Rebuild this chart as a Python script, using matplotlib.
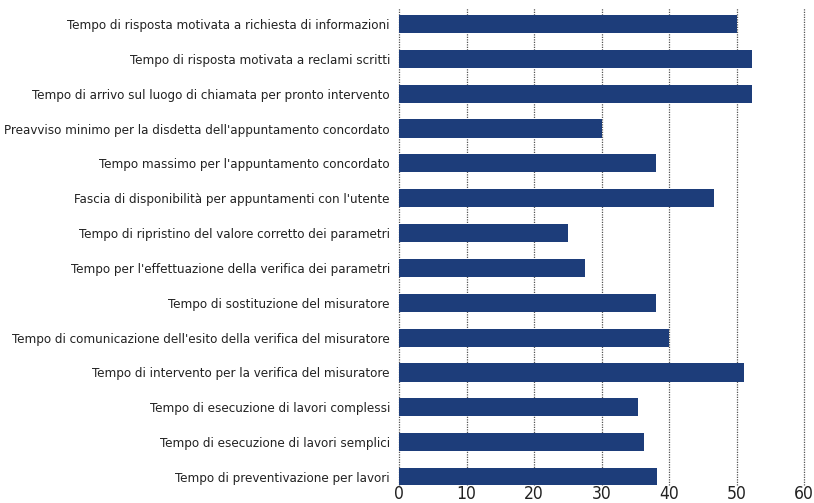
import matplotlib.pyplot as plt
import numpy as np

categorie = [
    "Tempo di risposta motivata a richiesta di informazioni",
    "Tempo di risposta motivata a reclami scritti",
    "Tempo di arrivo sul luogo di chiamata per pronto intervento",
    "Preavviso minimo per la disdetta dell'appuntamento concordato",
    "Tempo massimo per l'appuntamento concordato",
    "Fascia di disponibilità per appuntamenti con l'utente",
    "Tempo di ripristino del valore corretto dei parametri",
    "Tempo per l'effettuazione della verifica dei parametri",
    "Tempo di sostituzione del misuratore",
    "Tempo di comunicazione dell'esito della verifica del misuratore",
    "Tempo di intervento per la verifica del misuratore",
    "Tempo di esecuzione di lavori complessi",
    "Tempo di esecuzione di lavori semplici",
    "Tempo di preventivazione per lavori",
]
valori = [50, 52.3, 52.3, 30, 38.1, 46.7, 25, 27.6, 38.1, 40, 51.1, 35.4, 36.3, 38.2]
xticks = [0, 10, 20, 30, 40, 50, 60]

plt.rcParams['font.family'] = ['DejaVu Sans']
plt.rcParams['font.stretch'] = 'condensed'

fig = plt.figure(figsize=(8.14, 5.03), dpi=100)
ax = fig.add_axes([399 / 814, 1 - 485 / 503, 405 / 814, 477 / 503])

y = np.arange(len(categorie))
ax.barh(y, valori, height=0.52, color='#1d3d7a', zorder=3)

for t in xticks:
    ax.axvline(t, color='#555555', lw=0.9, ls=(0, (1, 1)), zorder=1, clip_on=False)

ax.set_xlim(0, 60)
ax.set_ylim(13.23, -0.46)
ax.set_yticks(y)
ax.set_yticklabels(categorie, fontsize=9.5, color='#222222')
ax.set_xticks(xticks)
ax.set_xticklabels([str(t) for t in xticks], fontsize=12.5, color='#222222')
ax.tick_params(axis='y', length=0, pad=6.5)
ax.tick_params(axis='x', length=0, pad=0)
for s in ax.spines.values():
    s.set_visible(False)

fig.savefig('out.png', dpi=100)
